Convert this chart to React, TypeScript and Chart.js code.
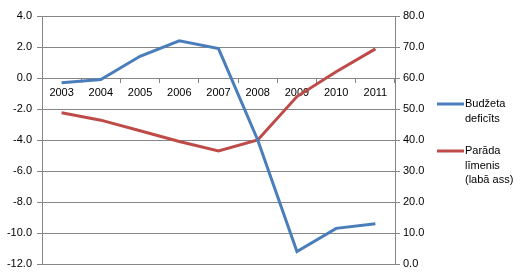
import React, { useEffect, useRef } from "react";
import { Chart, registerables } from "chart.js";

Chart.register(...registerables);

const years = ["2003", "2004", "2005", "2006", "2007", "2008", "2009", "2010", "2011"];
const deficit = [-0.3, -0.1, 1.4, 2.4, 1.9, -4.0, -11.2, -9.7, -9.4];
const debt = [48.8, 46.4, 43.0, 39.5, 36.5, 40.0, 54.0, 62.0, 69.4];
const deficitLabel = ["Budžeta", "deficīts"];
const debtLabel = ["Parāda", "līmenis", "(labā ass)"];

const FONT = "'Liberation Sans', Arial, sans-serif";
const GRID = "#868686";

const legendPlugin = {
  id: "sideLegend",
  afterDraw(chart: any) {
    const ctx = chart.ctx;
    const x0 = chart.chartArea.right + 42;
    const tops = [104, 151];
    ctx.save();
    chart.data.datasets.forEach((ds: any, i: number) => {
      const y = tops[i];
      ctx.strokeStyle = ds.borderColor;
      ctx.lineWidth = 3;
      ctx.beginPath();
      ctx.moveTo(x0, y);
      ctx.lineTo(x0 + 27, y);
      ctx.stroke();
      ctx.fillStyle = "#000";
      ctx.font = `11px ${FONT}`;
      ctx.textBaseline = "middle";
      ctx.textAlign = "left";
      const lines: string[] = ds.legendLines;
      lines.forEach((t, k) => {
        ctx.fillText(t, x0 + 28, y + k * 14.5);
      });
    });
    ctx.restore();
  },
};

export default function App() {
  const ref = useRef<HTMLCanvasElement>(null);
  useEffect(() => {
    if (!ref.current) return;
    const chart = new Chart(ref.current, {
      type: "line",
      data: {
        labels: years,
        datasets: [
          {
            label: deficitLabel.join(" "),
            legendLines: deficitLabel,
            data: deficit,
            borderColor: "#4a7ebb",
            backgroundColor: "#4a7ebb",
            borderWidth: 3,
            pointRadius: 0,
            tension: 0,
            yAxisID: "y",
          } as any,
          {
            label: debtLabel.join(" "),
            legendLines: debtLabel,
            data: debt,
            borderColor: "#be4b48",
            backgroundColor: "#be4b48",
            borderWidth: 3,
            pointRadius: 0,
            tension: 0,
            yAxisID: "y1",
          } as any,
        ],
      },
      options: {
        responsive: false,
        animation: false,
        layout: { padding: { top: 16, bottom: 16, right: 85, left: 0 } },
        plugins: { legend: { display: false }, tooltip: { enabled: false } },
        scales: {
          x: {
            position: { y: 0 } as any,
            offset: true,
            grid: {
              offset: true,
              drawOnChartArea: false,
              color: GRID,
              tickLength: 4,
            },
            border: { display: true, color: GRID },
            ticks: {
              color: "#000",
              font: { family: FONT, size: 11 },
              padding: 4,
              maxRotation: 0,
              autoSkip: false,
            },
          },
          y: {
            position: "left",
            min: -12,
            max: 4,
            grid: { color: GRID, tickLength: 5 },
            border: { display: true, color: GRID },
            ticks: {
              stepSize: 2,
              color: "#000",
              font: { family: FONT, size: 11 },
              padding: 5,
              callback: (v: any) => Number(v).toFixed(1),
            },
            afterFit: (s: any) => {
              s.width = 42;
            },
          },
          y1: {
            position: "right",
            min: 0,
            max: 80,
            grid: { drawOnChartArea: false, color: GRID, tickLength: 5 },
            border: { display: true, color: GRID },
            ticks: {
              stepSize: 10,
              color: "#000",
              font: { family: FONT, size: 11 },
              padding: 3,
              callback: (v: any) => Number(v).toFixed(1),
            },
            afterFit: (s: any) => {
              s.width = 45;
            },
          },
        },
      },
      plugins: [legendPlugin],
    });
    return () => chart.destroy();
  }, []);
  return (
    <div style={{ position: "fixed", left: 0, top: 0, width: 525, height: 280, background: "#fff" }}>
      <canvas ref={ref} width={525} height={280} />
    </div>
  );
}
